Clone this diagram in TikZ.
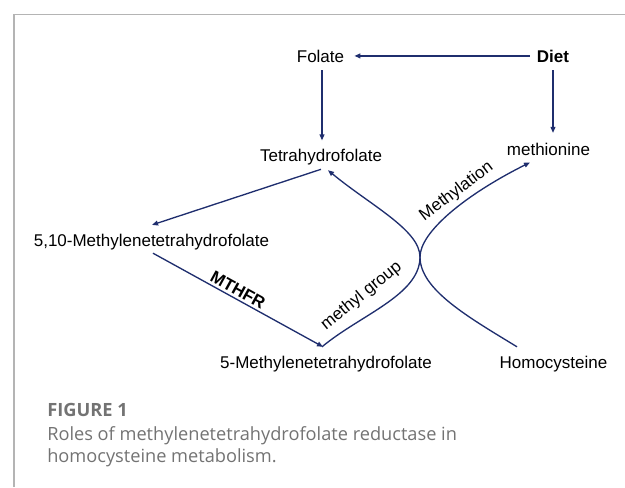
\documentclass[tikz,border=0pt]{standalone}
\usepackage{fontspec}
\setmainfont{Liberation Sans}
\newfontfamily\capfont{Open Sans}
\usetikzlibrary{arrows.meta,calc}
\definecolor{navy}{RGB}{31,46,110}
\definecolor{framegray}{RGB}{180,180,180}
\definecolor{capgray}{RGB}{115,115,115}
\begin{document}
\begin{tikzpicture}[x=0.75pt,y=-0.75pt,
  lbl/.style={inner sep=0pt, anchor=base, font=\fontsize{12.75}{15}\selectfont},
  boldlbl/.style={lbl, font=\fontsize{12.75}{15}\selectfont\bfseries},
  arr/.style={draw=navy, line width=1pt, -{Triangle[length=4.5pt,width=3.6pt]}},
  captxt/.style={anchor=base west, inner sep=0pt, text=capgray}
  ]
\useasboundingbox (0,0) rectangle (625,487);
\draw[framegray, line width=0.9pt] (14,487) -- (14,14.5) -- (625,14.5);

\node[lbl] (folate) at (320.5,62) {Folate};
\node[boldlbl] (diet) at (553,62) {Diet};
\node[lbl] (thf) at (321,161) {Tetrahydrofolate};
\node[lbl] (meth) at (548.5,155) {methionine};
\node[lbl] (m510) at (151.5,246) {5,10-Methylenetetrahydrofolate};
\node[lbl] (m5) at (326,368) {5-Methylenetetrahydrofolate};
\node[lbl] (hcy) at (553.5,368) {Homocysteine};
\coordinate (cross) at (420,257);

\draw[arr] ([shift={(-7,0)}]diet.west) -- ([shift={(10,0)}]folate.east);
\draw[arr] ([shift={(1.5,8)}]folate.south) -- ($(folate.south |- thf.north)+(1.5,-8)$);
\draw[arr] ([shift={(0,8)}]diet.south) -- ($(diet.south |- meth.north)+(0,-9.5)$);
\draw[arr] ([shift={(0,4.5)}]thf.south) -- ([shift={(0.5,-8.5)}]m510.north);
\draw[arr] ([shift={(1.5,3.4)}]m510.south) -- ([shift={(-3,-8.6)}]m5.north);
\draw[arr] ([shift={(-36.5,-8.6)}]hcy.north) .. controls (470,318) and (420,290) .. (cross)
  .. controls (420,230) and (370,205) .. ([shift={(7,5.4)}]thf.south);
\draw[arr] ([shift={(-4,-8.6)}]m5.north) .. controls (360,315) and (420,295) .. (cross)
  .. controls (420,232) and (465,195) .. ([shift={(-18.5,7)}]meth.south);

\node[lbl, anchor=center, rotate=39] (mg) at (361.5,296) {methyl group};
\node[lbl, anchor=center, rotate=37] (mt) at (456.5,191.5) {Methylation};
\node[boldlbl, anchor=center, rotate=-29] (mthfr) at (238,290) {MTHFR};

\node[captxt, font=\capfont\bfseries\fontsize{13.7}{16}\selectfont] (figlbl) at (47,416) {FIGURE 1};
\node[captxt, font=\capfont\fontsize{13.65}{16}\selectfont] (cap1) at (47,440) {Roles of methylenetetrahydrofolate reductase in};
\node[captxt, font=\capfont\fontsize{13.65}{16}\selectfont] (cap2) at (47,462) {homocysteine metabolism.};
\end{tikzpicture}
\end{document}
